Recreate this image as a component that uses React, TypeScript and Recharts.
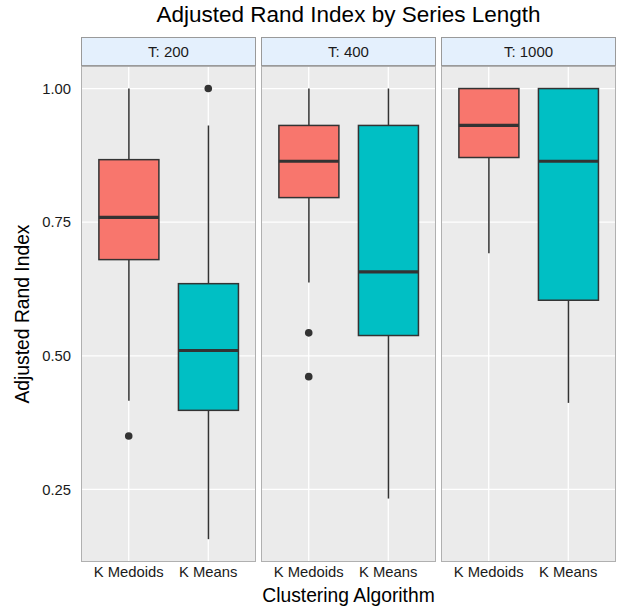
import React from 'react';
import { ComposedChart, Bar, Scatter, XAxis, YAxis, CartesianGrid } from 'recharts';

const facets = ['T: 200', 'T: 400', 'T: 1000'];
const categories = ['K Medoids', 'K Means'];
const whiskerLow = [[0.416, 0.157], [0.637, 0.233], [0.692, 0.412]];
const q1 = [[0.680, 0.398], [0.796, 0.538], [0.871, 0.604]];
const median = [[0.759, 0.510], [0.864, 0.657], [0.931, 0.864]];
const q3 = [[0.867, 0.635], [0.931, 0.931], [1.0, 1.0]];
const whiskerHigh = [[1.0, 0.931], [1.0, 1.0], [1.0, 1.0]];
const outliers: number[][][] = [[[0.35], [1.0]], [[0.543, 0.461], []], [[], []]];
const yTicks = [0.25, 0.5, 0.75, 1.0];
const fillColors = ['#F8766D', '#00BFC4'];

const FONT = '"Liberation Sans", Arial, Helvetica, sans-serif';
const PANEL_LEFT = [81, 261, 441];
const PANEL_W = 175;
const PANEL_TOP = 66;
const PANEL_H = 496;
const Y_DOMAIN: [number, number] = [0.1143, 1.0422];

const BoxShape = (props: any) => {
  const { x, y, width, height, payload } = props;
  if (!payload) return <g />;
  const { low, high } = payload;
  const py = (v: number) => y + (height * (high - v)) / (high - low);
  const cx = x + width / 2;
  const st = '#333333';
  return (
    <g>
      <line x1={cx} x2={cx} y1={py(high)} y2={py(payload.q3)} stroke={st} strokeWidth={1.5} />
      <line x1={cx} x2={cx} y1={py(payload.q1)} y2={py(low)} stroke={st} strokeWidth={1.5} />
      <rect
        x={x}
        y={py(payload.q3)}
        width={width}
        height={py(payload.q1) - py(payload.q3)}
        fill={payload.fill}
        stroke={st}
        strokeWidth={1.5}
      />
      <line x1={x} x2={x + width} y1={py(payload.med)} y2={py(payload.med)} stroke={st} strokeWidth={3.2} />
    </g>
  );
};

const makeDot = (key: string) => (props: any) => {
  const { cx, cy, payload } = props;
  if (!payload || payload[key] == null || cx == null || cy == null || isNaN(cy)) return <g />;
  return <circle cx={cx} cy={cy} r={3.8} fill="#333333" />;
};
const Dot1 = makeDot('out1');
const Dot2 = makeDot('out2');

function facetData(f: number) {
  return categories.map((cat, i) => ({
    cat,
    range: [whiskerLow[f][i], whiskerHigh[f][i]],
    low: whiskerLow[f][i],
    q1: q1[f][i],
    med: median[f][i],
    q3: q3[f][i],
    high: whiskerHigh[f][i],
    out1: outliers[f][i][0] ?? null,
    out2: outliers[f][i][1] ?? null,
    fill: fillColors[i],
  }));
}

const tickStyle = { fontSize: 14.8, fill: '#1a1a1a', fontFamily: FONT };

function Panel({ f }: { f: number }) {
  const first = f === 0;
  const yW = first ? PANEL_LEFT[0] : 0;
  const width = PANEL_W + yW;
  const left = first ? 0 : PANEL_LEFT[f];
  const pad = PANEL_W * 0.04545;
  return (
    <div style={{ position: 'absolute', left, top: PANEL_TOP, width, height: PANEL_H + 34 }}>
      <ComposedChart
        width={width}
        height={PANEL_H + 34}
        data={facetData(f)}
        margin={{ top: 0, right: 0, bottom: 0, left: 0 }}
        barCategoryGap="12.5%"
      >
        <CartesianGrid fill="#ebebeb" fillOpacity={1} stroke="#ffffff" strokeWidth={1.3} />
        <XAxis
          dataKey="cat"
          type="category"
          height={34}
          padding={{ left: pad, right: pad }}
          axisLine={false}
          tickLine={false}
          tickSize={2}
          tickMargin={2}
          tick={tickStyle}
          interval={0}
        />
        <YAxis
          type="number"
          domain={Y_DOMAIN}
          ticks={yTicks}
          allowDataOverflow
          hide={!first}
          width={yW}
          axisLine={false}
          tickLine={false}
          tickSize={8}
          tickMargin={2}
          tick={tickStyle}
          tickFormatter={(v: number) => v.toFixed(2)}
        />
        <Bar dataKey="range" shape={BoxShape} isAnimationActive={false} />
        <Scatter dataKey="out1" shape={Dot1} isAnimationActive={false} />
        <Scatter dataKey="out2" shape={Dot2} isAnimationActive={false} />
      </ComposedChart>
    </div>
  );
}

export default function App() {
  return (
    <div
      style={{
        position: 'absolute',
        left: 0,
        top: 0,
        width: 619,
        height: 612,
        background: '#ffffff',
        fontFamily: FONT,
        overflow: 'hidden',
      }}
    >
      <svg width={619} height={612} style={{ position: 'absolute', left: 0, top: 0 }}>
        <text x={348.5} y={22} textAnchor="middle" fontSize={22.5} fill="#000" fontFamily={FONT}>
          Adjusted Rand Index by Series Length
        </text>
        <text x={348.5} y={602} textAnchor="middle" fontSize={19.3} fill="#000" fontFamily={FONT}>
          Clustering Algorithm
        </text>
        <text
          x={0}
          y={0}
          transform={`translate(29, 314) rotate(-90)`}
          textAnchor="middle"
          fontSize={19.3}
          fill="#000"
          fontFamily={FONT}
        >
          Adjusted Rand Index
        </text>
      </svg>
      {facets.map((_, f) => (
        <Panel key={f} f={f} />
      ))}
      {facets.map((label, f) => (
        <React.Fragment key={'s' + f}>
          <div
            style={{
              position: 'absolute',
              left: PANEL_LEFT[f],
              top: 37,
              width: PANEL_W,
              height: 29,
              boxSizing: 'border-box',
              background: '#e4f0fd',
              border: '1px solid #9a9a9a',
              display: 'flex',
              alignItems: 'center',
              justifyContent: 'center',
              fontSize: 15,
              color: '#1a1a1a',
              fontFamily: FONT,
            }}
          >
            {label}
          </div>
          <div
            style={{
              position: 'absolute',
              left: PANEL_LEFT[f],
              top: PANEL_TOP,
              width: PANEL_W,
              height: PANEL_H,
              boxSizing: 'border-box',
              border: '1px solid #b0b0b0',
              pointerEvents: 'none',
            }}
          />
        </React.Fragment>
      ))}
    </div>
  );
}
